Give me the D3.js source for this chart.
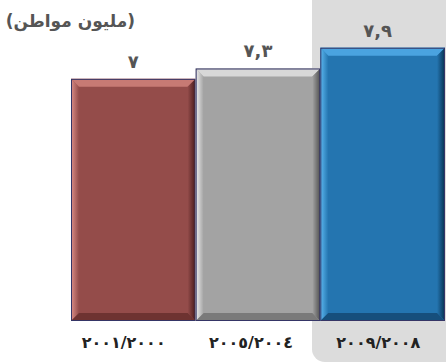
<!DOCTYPE html>
<html>
<head>
<meta charset="utf-8">
<script src="https://cdn.jsdelivr.net/npm/d3@7"></script>
<style>
  body { margin: 0; background: #fff; }
  svg { display: block; }
</style>
</head>
<body>
<div id="chart"></div>
<script>
// data
const periods = ["2000/2001", "2004/2005", "2008/2009"];
const periodLabels = ["٢٠٠١/٢٠٠٠", "٢٠٠٥/٢٠٠٤", "٢٠٠٩/٢٠٠٨"];
const values = [7, 7.3, 7.9];
const valueLabels = ["٧", "٧,٣", "٧,٩"];
const unitLabel = "(مليون مواطن)";

// colours per bar: main, light bevel, dark bevel
const palettes = [
    { main: "#944c4a", light: "#dc8f88", top: "#c77a74", dark: "#451a1a", bottom: "#6e3331" },
    { main: "#a3a3a3", light: "#ededed", top: "#d8d8d8", dark: "#4f4f4f", bottom: "#7a7a7a" },
    { main: "#2475b0", light: "#5cb8f0", top: "#4aa3e0", dark: "#06304f", bottom: "#164f7c" }
];

const width = 446, height = 363;
const baseY = 321;
const bevel = 8;

const svg = d3.select("#chart").append("svg")
    .attr("width", width)
    .attr("height", height);

// highlight panel behind the last period
svg.append("rect")
    .attr("x", 312).attr("y", -14)
    .attr("width", 150).attr("height", 376)
    .attr("rx", 13)
    .attr("fill", "#dcdcdc");

const x = d3.scaleBand().domain(periods).range([71, 445]).padding(0);
const xLabel = d3.scaleBand().domain(periods).range([60, 442]).padding(0);
const y = d3.scaleLinear().domain([0, 9.28]).range([baseY, 0]);

// gradients for the side bevels
const defs = svg.append("defs");
palettes.forEach((p, i) => {
    const gl = defs.append("linearGradient").attr("id", "gl" + i)
        .attr("x1", 0).attr("x2", 1).attr("y1", 0).attr("y2", 0);
    gl.append("stop").attr("offset", "0%").attr("stop-color", p.light);
    gl.append("stop").attr("offset", "100%").attr("stop-color", p.main);
    const gr = defs.append("linearGradient").attr("id", "gr" + i)
        .attr("x1", 0).attr("x2", 1).attr("y1", 0).attr("y2", 0);
    gr.append("stop").attr("offset", "0%").attr("stop-color", p.main);
    gr.append("stop").attr("offset", "100%").attr("stop-color", p.dark);
});

const bars = svg.append("g")
    .selectAll("g")
    .data(periods)
    .enter()
    .append("g");

bars.each(function(d, i) {
    const g = d3.select(this);
    const p = palettes[i];
    const x0 = x(d), x1 = x(d) + x.bandwidth();
    const y0 = y(values[i]), y1 = y(0);
    const b = bevel;

    g.append("rect")
        .attr("x", x0).attr("y", y0)
        .attr("width", x1 - x0).attr("height", y1 - y0)
        .attr("fill", p.main);

    // left
    g.append("polygon")
        .attr("points", [[x0, y0], [x0 + b, y0 + b], [x0 + b, y1 - b], [x0, y1]].join(" "))
        .attr("fill", `url(#gl${i})`);
    // top
    g.append("polygon")
        .attr("points", [[x0, y0], [x1, y0], [x1 - b, y0 + b], [x0 + b, y0 + b]].join(" "))
        .attr("fill", p.top);
    // right
    g.append("polygon")
        .attr("points", [[x1, y0], [x1, y1], [x1 - b, y1 - b], [x1 - b, y0 + b]].join(" "))
        .attr("fill", `url(#gr${i})`);
    // bottom
    g.append("polygon")
        .attr("points", [[x0, y1], [x0 + b, y1 - b], [x1 - b, y1 - b], [x1, y1]].join(" "))
        .attr("fill", p.bottom);

    // thin outline
    g.append("rect")
        .attr("x", x0 + 0.5).attr("y", y0 + 0.5)
        .attr("width", x1 - x0 - 1).attr("height", y1 - y0 - 1)
        .attr("fill", "none")
        .attr("stroke", "#353566")
        .attr("stroke-width", 1);
});

// value labels
svg.append("g")
    .selectAll("text")
    .data(periods)
    .enter()
    .append("text")
    .attr("x", (d, i) => x(d) + x.bandwidth() / 2 - (i === 2 ? 5 : 0))
    .attr("y", (d, i) => y(values[i]) - 11)
    .attr("text-anchor", "middle")
    .style("font-family", "DejaVu Sans, sans-serif")
    .style("font-weight", "bold")
    .style("font-size", "18px")
    .style("letter-spacing", "1px")
    .style("fill", "#555")
    .text((d, i) => valueLabels[i]);

// category labels
svg.append("g")
    .selectAll("text")
    .data(periods)
    .enter()
    .append("text")
    .attr("x", d => xLabel(d) + xLabel.bandwidth() / 2)
    .attr("y", 348)
    .attr("text-anchor", "middle")
    .style("font-family", "DejaVu Sans, sans-serif")
    .style("font-weight", "bold")
    .style("font-size", "16px")
    .style("letter-spacing", "3px")
    .style("fill", "#222")
    .text((d, i) => periodLabels[i]);

// unit label
svg.append("text")
    .attr("x", 135)
    .attr("y", 27)
    .attr("text-anchor", "start")
    .attr("direction", "rtl")
    .style("font-family", "DejaVu Sans, sans-serif")
    .style("font-weight", "bold")
    .style("font-size", "17px")
    .style("fill", "#555")
    .text(unitLabel);
</script>
</body>
</html>
